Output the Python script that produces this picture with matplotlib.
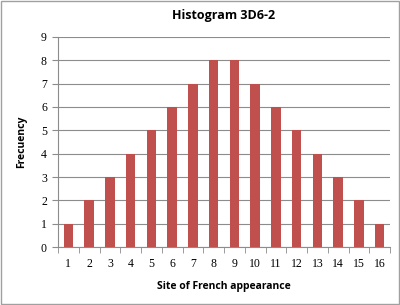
import matplotlib
matplotlib.use("Agg")
import matplotlib.pyplot as plt
from matplotlib.patches import Rectangle
import numpy as np

sites = list(range(1, 17))
counts = [1, 2, 3, 4, 5, 6, 7, 8, 8, 7, 6, 5, 4, 3, 2, 1]

plt.rcParams["font.family"] = ["Open Sans", "DejaVu Sans"]

fig = plt.figure(figsize=(4, 3.05), dpi=100)
ax = fig.add_axes([0.145, 0.19, 0.83, 0.689])

x = np.arange(len(sites))
ax.bar(x, counts, width=0.45, color="#C0504D", zorder=3)

ax.set_xlim(-0.5, len(sites) - 0.5)
ax.set_ylim(0, 9)
ax.set_yticks(range(0, 10))
ax.yaxis.grid(True, color="#8c8c8c", linewidth=0.8, zorder=0)

ax.set_xticks(x)
ax.set_xticklabels([str(s) for s in sites], fontsize=8.5, family="Liberation Serif")
ax.set_xticks(np.arange(-0.5, len(sites)), minor=True)
ax.tick_params(axis="x", which="major", length=0, pad=8)
ax.tick_params(axis="x", which="minor", length=4, color="#8c8c8c", direction="out")
ax.tick_params(axis="y", length=4, color="#8c8c8c", labelsize=8.5, pad=4)
for lab in ax.get_yticklabels():
    lab.set_family("Liberation Serif")

for side in ["top", "right"]:
    ax.spines[side].set_visible(False)
for side in ["left", "bottom"]:
    ax.spines[side].set_color("#8c8c8c")

ax.set_title("Histogram 3D6-2", fontsize=9, fontweight="bold", pad=13)
ax.set_xlabel("Site of French appearance", fontsize=7.5, fontweight="bold", labelpad=8)
ax.set_ylabel("Frecuency", fontsize=7.5, fontweight="bold", labelpad=10)

fig.patches.append(Rectangle((0.003, 0.004), 0.994, 0.992, transform=fig.transFigure,
                             fill=False, edgecolor="#a0a0a0", linewidth=1))

fig.savefig("out.png", dpi=100)
